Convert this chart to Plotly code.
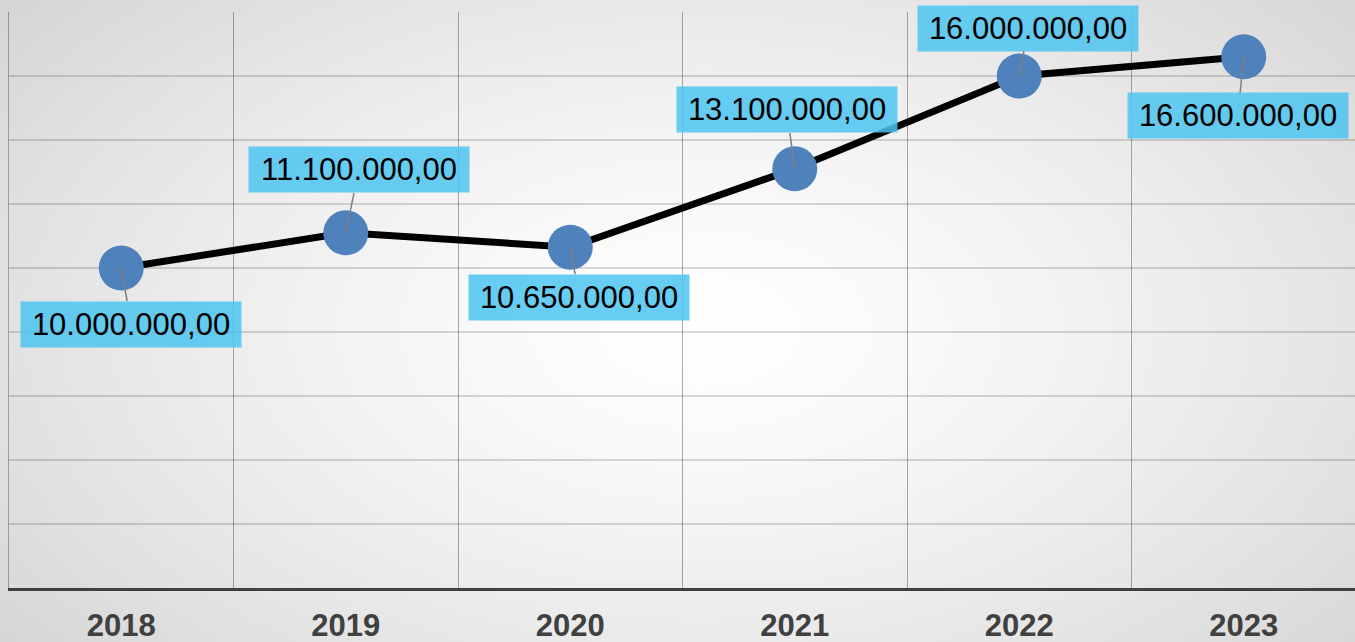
import base64, struct, zlib
import numpy as np
import plotly.graph_objects as go

# ---- data ----
years = ["2018", "2019", "2020", "2021", "2022", "2023"]
values = [10000000, 11100000, 10650000, 13100000, 16000000, 16600000]

# label offsets (pixels) relative to each point
label_dx = [10, 13, 9, -8, 9, -6]
label_dy = [56, -63, 50, -59, -48, 59]

def fmt(v):
    s = format(v, ",.2f")
    return s.replace(",", "X").replace(".", ",").replace("X", ".")

# ---- background radial gradient as png data uri ----
W, H = 1355, 642
gw, gh = 339, 161
xs = (np.arange(gw) + 0.5) * W / gw
ys = (np.arange(gh) + 0.5) * H / gh
X, Y = np.meshgrid(xs, ys)
d = np.sqrt(((X - 700) / 820.0) ** 2 + ((Y - 330) / 470.0) ** 2)
d = np.clip(d, 0, 1.25)
val = 255 - 50 * np.clip(d / 1.25, 0, 1) ** 1.4
img = np.clip(val, 0, 255).astype(np.uint8)
raw = b"".join(b"\x00" + bytes(np.repeat(row[:, None], 3, axis=1).flatten()) for row in img)

def chunk(t, data):
    c = struct.pack(">I", len(data)) + t + data
    return c + struct.pack(">I", zlib.crc32(t + data) & 0xffffffff)

png = b"\x89PNG\r\n\x1a\n" + chunk(b"IHDR", struct.pack(">IIBBBBB", gw, gh, 8, 2, 0, 0, 0)) \
    + chunk(b"IDAT", zlib.compress(raw, 9)) + chunk(b"IEND", b"")
uri = "data:image/png;base64," + base64.b64encode(png).decode()

# ---- figure ----
L, R, T, B = 9, 0, 12, 54
pw, ph = W - L - R, H - T - B
cat_w = 224.5
xpos = [i + 0.5 for i in range(len(years))]

fig = go.Figure()
fig.add_trace(go.Scatter(
    x=xpos, y=values, mode="lines+markers",
    line=dict(color="black", width=7),
    marker=dict(size=45, color="#4F81BD"),
    hoverinfo="skip", showlegend=False,
))

for x, v, dx, dy in zip(xpos, values, label_dx, label_dy):
    fig.add_annotation(
        x=x, y=v, text=fmt(v), showarrow=True, ax=dx, ay=dy,
        arrowhead=0, arrowwidth=1.5, arrowcolor="#7f7f7f", standoff=0,
        font=dict(family="Liberation Sans, Arial", size=31, color="black"),
        bgcolor="rgba(77,196,240,0.85)", borderpad=5, width=210,
    )

fig.add_layout_image(
    source=uri, xref="paper", yref="paper",
    x=-L / pw, y=1 + T / ph, sizex=W / pw, sizey=H / ph,
    xanchor="left", yanchor="top", sizing="stretch", layer="below",
)

fig.update_layout(
    width=W, height=H, autosize=False,
    margin=dict(l=L, r=R, t=T, b=B, pad=0, autoexpand=False),
    paper_bgcolor="rgba(0,0,0,0)", plot_bgcolor="rgba(0,0,0,0)",
    xaxis=dict(
        range=[0, pw / cat_w], tickvals=xpos, automargin=False,
        ticktext=["<b>%s</b>" % y for y in years],
        tickfont=dict(family="Liberation Sans, Arial", size=31, color="#404040"),
        ticks="outside", ticklen=8, tickcolor="rgba(0,0,0,0)",
        showgrid=False, zeroline=False,
        showline=True, linecolor="#404040", linewidth=3,
        minor=dict(tickvals=list(range(0, 7)), showgrid=True,
                   gridcolor="rgba(0,0,0,0.32)", gridwidth=1, ticks=""),
    ),
    yaxis=dict(
        range=[0, 18000000], dtick=2000000, showticklabels=False, automargin=False,
        showgrid=True, gridcolor="rgba(0,0,0,0.15)", gridwidth=1.5,
        zeroline=False, showline=True, linecolor="rgba(0,0,0,0.3)", linewidth=1,
    ),
)

fig.write_html(
    "out.html",
    config={"responsive": False, "displayModeBar": False, "staticPlot": True},
    post_script="document.body.style.margin='0';document.body.style.overflow='hidden';",
)
